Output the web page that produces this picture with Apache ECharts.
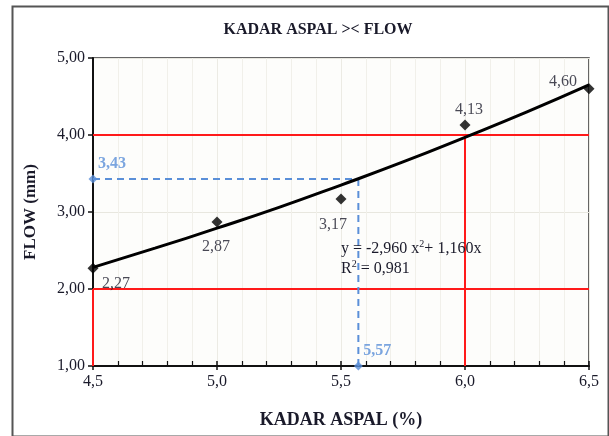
<!DOCTYPE html>
<html><head><meta charset="utf-8">
<script src="https://cdn.jsdelivr.net/npm/echarts@6/dist/echarts.min.js"></script>
<style>html,body{margin:0;padding:0;background:#fff}#c{width:609px;height:436px}</style>
</head><body><div id="c"></div>
<script>
// Data
var kadarAspal = [4.5, 5.0, 5.5, 6.0, 6.5];
var flowValues = [2.27, 2.87, 3.17, 4.13, 4.60];
var dataLabels = ['2,27', '2,87', '3,17', '4,13', '4,60'];
// polynomial trendline
var trendX = [4.5, 4.75, 5.0, 5.25, 5.5, 5.75, 6.0, 6.25, 6.5];
var trendY = [2.28, 2.53, 2.79, 3.06, 3.35, 3.65, 3.97, 4.30, 4.65];
// specification limits
var flowMin = 2.0, flowMax = 4.0;
var kadarMin = 4.5, kadarMax = 6.0;
var axisXMin = 4.5, axisXMax = 6.5, axisYMin = 1.0, axisYMax = 5.0;
// optimum reading
var optKadar = 5.57, optFlow = 3.43;
var eqLine1 = 'y = -2,960 x', eqLine2 = '+ 1,160x', r2Text = ' = 0,981';

var FONT = '"Liberation Serif", "DejaVu Serif", serif';
var BLUE = '#5a8fd8', RED = '#ff1a1a', TXT = '#1a1a2a';
var fmt1 = function (v) { return v.toFixed(1).replace('.', ','); };
var fmt2 = function (v) { return v.toFixed(2).replace('.', ','); };

var labelOffsets = [[23, 16], [-1, 25], [-8, 26], [4, -15], [-26, -7]];

var pts = kadarAspal.map(function (x, i) {
  return {
    value: [x, flowValues[i]],
    label: { show: true, position: 'inside', offset: labelOffsets[i], formatter: dataLabels[i],
      color: TXT, fontFamily: FONT, fontSize: 16 }
  };
});
var trend = trendX.map(function (x, i) { return [x, trendY[i]]; });

function seg(data, color, dashed, z) {
  return { type: 'line', data: data, symbol: 'none', silent: true, z: z || 3,
    lineStyle: { color: color, width: 2, type: dashed ? [7, 5] : 'solid' }, animation: false };
}

var chart = echarts.init(document.getElementById('c'), null, { renderer: 'canvas' });
chart.setOption({
  animation: false,
  backgroundColor: '#fff',
  title: { text: 'KADAR ASPAL >< FLOW', left: 313, top: 17, textAlign: 'center',
    textStyle: { fontFamily: FONT, fontWeight: 'bold', fontSize: 16, color: TXT } },
  grid: { left: 93, right: 20, top: 58, bottom: 70, show: true, borderColor: '#333', borderWidth: 1.5,
    backgroundColor: '#fdfdfb' },
  xAxis: [{
    type: 'value', min: axisXMin, max: axisXMax, interval: 0.5,
    name: 'KADAR ASPAL (%)', nameLocation: 'middle', nameGap: 45,
    nameTextStyle: { fontFamily: FONT, fontWeight: 'bold', fontSize: 18, color: TXT },
    axisLine: { show: true, onZero: false, lineStyle: { color: '#111', width: 2 } },
    axisTick: { show: true, length: 4, lineStyle: { color: '#111', width: 1.5 } },
    minorTick: { show: false },
    axisLabel: { formatter: fmt1, fontFamily: FONT, fontSize: 16, color: TXT, margin: 8 },
    splitLine: { show: false },
    minorSplitLine: { show: false }
  }, {
    type: 'value', min: axisXMin, max: axisXMax, interval: 0.5, position: 'bottom',
    axisLine: { show: false, onZero: false },
    axisTick: { show: true, inside: true, length: 5, lineStyle: { color: '#111', width: 1.5 } },
    minorTick: { show: true, splitNumber: 5, length: 5, lineStyle: { color: '#111', width: 1.2 } },
    axisLabel: { show: false },
    splitLine: { show: true, lineStyle: { color: '#ecebe4', width: 1 } },
    minorSplitLine: { show: true, lineStyle: { color: '#f1f0ea', width: 1 } }
  }],
  yAxis: {
    type: 'value', min: axisYMin, max: axisYMax, interval: 1,
    name: 'FLOW (mm)', nameLocation: 'middle', nameGap: 54,
    nameTextStyle: { fontFamily: FONT, fontWeight: 'bold', fontSize: 17, color: TXT },
    axisLine: { show: true, onZero: false, lineStyle: { color: '#111', width: 2 } },
    axisTick: { show: true, length: 5, lineStyle: { color: '#111', width: 1.5 } },
    axisLabel: { formatter: fmt2, fontFamily: FONT, fontSize: 16, color: TXT, margin: 8 },
    splitLine: { show: true, lineStyle: { color: '#e8e7df', width: 1 } }
  },
  series: [
    seg([[axisXMin, flowMax], [axisXMax, flowMax]], RED),
    seg([[axisXMin, flowMin], [axisXMax, flowMin]], RED),
    seg([[kadarMax, axisYMin], [kadarMax, flowMax]], RED),
    seg([[kadarMin, axisYMin], [kadarMin, flowMin]], RED),
    seg([[axisXMin, optFlow], [optKadar, optFlow]], BLUE, true),
    seg([[optKadar, optFlow], [optKadar, axisYMin]], BLUE, true),
    {
      type: 'scatter', symbol: 'diamond', symbolSize: 9, z: 6,
      itemStyle: { color: BLUE },
      data: [
        { value: [axisXMin, optFlow], label: { show: true, position: 'inside', offset: [19, -15],
          formatter: fmt2(optFlow), color: BLUE, fontFamily: FONT, fontSize: 16, fontWeight: 'bold' } },
        { value: [optKadar, axisYMin], label: { show: true, position: 'inside', offset: [19, -15],
          formatter: fmt2(optKadar), color: BLUE, fontFamily: FONT, fontSize: 16, fontWeight: 'bold' } }
      ]
    },
    {
      type: 'line', data: trend, smooth: true, symbol: 'none', z: 5,
      lineStyle: { color: '#000', width: 3 }
    },
    {
      type: 'scatter', symbol: 'diamond', symbolSize: 11, z: 7,
      itemStyle: { color: '#000' }, data: pts
    }
  ],
  graphic: [
    { type: 'rect', left: 10, top: 4, z: 100, silent: true,
      shape: { width: 596, height: 430 },
      style: { fill: 'none', stroke: '#555', lineWidth: 2 } },
    { type: 'text', left: 341, top: 239, z: 100,
      style: { rich: { a: { fontFamily: FONT, fontSize: 16, fill: TXT },
                       s: { fontFamily: FONT, fontSize: 10, fill: TXT, padding: [0, 0, 9, 0] } },
        text: '{a|' + eqLine1 + '}{s|2}{a|' + eqLine2 + '}' } },
    { type: 'text', left: 341, top: 259, z: 100,
      style: { rich: { a: { fontFamily: FONT, fontSize: 16, fill: TXT },
                       s: { fontFamily: FONT, fontSize: 10, fill: TXT, padding: [0, 0, 9, 0] } },
        text: '{a|R}{s|2}{a|' + r2Text + '}' } }
  ]
});
</script></body></html>
